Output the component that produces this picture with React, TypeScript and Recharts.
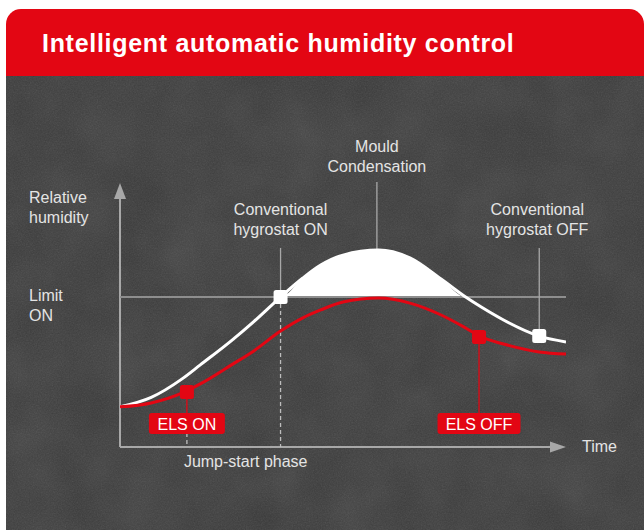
import React from 'react';
import {
  ComposedChart,
  Line,
  Area,
  Scatter,
  XAxis,
  YAxis,
  ReferenceLine,
  ReferenceDot,
} from 'recharts';

// ---- data ----
const time = [0, 7, 14, 18, 25, 30, 36, 41, 45, 50, 58, 65, 72, 77.5, 81, 86, 94, 100];
const conventional = [15.2, 18.8, 25.9, 31.1, 40.3, 47.5, 56.8, 64.0, 68.9, 72.7, 74.6, 71.6, 63.6, 56.8, 53.0, 48.1, 42.0, 39.8];
const elsCurve = [15.2, 16.7, 20.5, 23.9, 31.1, 36.4, 43.9, 48.9, 51.9, 54.9, 56.4, 54.5, 50.0, 45.1, 41.7, 39.0, 36.0, 35.2];
const limitOn = 56.8;
const whiteMarkers = [
  { t: 36, h: 56.8 },
  { t: 94, h: 42.0 },
];
const redMarkers = [
  { t: 15, h: 20.8 },
  { t: 80.5, h: 41.7 },
];
const mouldT = 57.6;
const mouldPeak = 74.6;
const calloutTop = 75.4;
const boxLevel = 8.9;
const boxTop = 12.9;
const boxBottom = 5.3;

const titleText = 'Intelligent automatic humidity control';
const mouldLabel = ['Mould', 'Condensation'];
const hygOnLabel = ['Conventional', 'hygrostat ON'];
const hygOffLabel = ['Conventional', 'hygrostat OFF'];
const yLabel = ['Relative', 'humidity'];
const limitLabel = ['Limit', 'ON'];
const xLabel = 'Time';
const phaseLabel = 'Jump-start phase';
const elsOnLabel = 'ELS ON';
const elsOffLabel = 'ELS OFF';

const RED = '#e30613';
const TEXT = '#e4e4e4';
const GRAY = '#a8a8a8';
const FONT = '"Liberation Sans", Arial, Helvetica, sans-serif';

const data = time.map((t, i) => ({
  t,
  conventional: conventional[i],
  els: elsCurve[i],
  mould: [limitOn, Math.max(conventional[i], limitOn)],
}));

type NoteProps = {
  lines: string[];
  anchor?: 'start' | 'middle' | 'end';
  dx?: number;
  dy?: number;
};

const makeNote = ({ lines, anchor = 'middle', dx = 0, dy = 0 }: NoteProps) => (p: any) => (
  <text
    x={p.cx + dx}
    y={p.cy + dy}
    textAnchor={anchor}
    fill={TEXT}
    fontSize={16}
    fontFamily={FONT}
  >
    {lines.map((l, i) => (
      <tspan key={i} x={p.cx + dx} dy={i === 0 ? 0 : 20}>
        {l}
      </tspan>
    ))}
  </text>
);

const makeBox = (label: string, w: number) => (p: any) => (
  <g>
    <rect x={p.cx - w / 2} y={p.cy - 10.5} width={w} height={21} rx={3} fill={RED} />
    <text
      x={p.cx}
      y={p.cy + 6}
      textAnchor="middle"
      fill="#fff"
      fontSize={16}
      fontFamily={FONT}
    >
      {label}
    </text>
  </g>
);

const upArrow = (p: any) => (
  <polygon points={`${p.cx},${p.cy} ${p.cx - 6},${p.cy + 16} ${p.cx + 6},${p.cy + 16}`} fill={GRAY} />
);
const rightArrow = (p: any) => (
  <polygon points={`${p.cx},${p.cy} ${p.cx - 16},${p.cy - 5.5} ${p.cx - 16},${p.cy + 5.5}`} fill={GRAY} />
);

const squareShape = (color: string) => (p: any) => (
  <rect x={p.cx - 7} y={p.cy - 7} width={14} height={14} rx={2.5} fill={color} />
);

export default function App() {
  return (
    <div
      style={{
        position: 'absolute',
        left: 0,
        top: 0,
        width: 644,
        height: 530,
        background: '#fff',
        overflow: 'hidden',
      }}
    >
      <svg width={644} height={530} style={{ position: 'absolute', left: 0, top: 0 }}>
        <defs>
          <filter id="grain" x="0" y="0" width="100%" height="100%">
            <feTurbulence type="fractalNoise" baseFrequency="0.75" numOctaves="2" seed="5" />
            <feColorMatrix type="saturate" values="0" />
          </filter>
          <filter id="cloud" x="0" y="0" width="100%" height="100%">
            <feTurbulence type="fractalNoise" baseFrequency="0.018" numOctaves="3" seed="9" />
            <feColorMatrix type="saturate" values="0" />
          </filter>
        </defs>
        <rect x={6} y={9} width={638} height={90} rx={15} ry={15} fill={RED} />
        <rect x={6} y={76} width={638} height={454} fill="#393939" />
        <rect x={6} y={76} width={638} height={454} filter="url(#cloud)" opacity={0.11} />
        <rect x={6} y={76} width={638} height={454} filter="url(#grain)" opacity={0.14} />
        <text x={42} y={52} fill="#fff" fontSize={25} fontWeight={700} fontFamily={FONT} letterSpacing={0.7}>
          {titleText}
        </text>
      </svg>
      <div style={{ position: 'absolute', left: 0, top: 0 }}>
        <ComposedChart
          width={644}
          height={530}
          data={data}
          margin={{ top: 183, right: 78, bottom: 83, left: 120 }}
        >
          <XAxis type="number" dataKey="t" domain={[0, 100]} hide allowDataOverflow />
          <YAxis type="number" domain={[0, 100]} hide allowDataOverflow />

          <Area
            type="monotone"
            dataKey="mould"
            stroke="none"
            fill="#ffffff"
            fillOpacity={1}
            isAnimationActive={false}
            activeDot={false}
          />

          {/* axes */}
          <ReferenceLine
            segment={[{ x: 0, y: 0 }, { x: 0, y: 95 }]}
            stroke={GRAY}
            strokeWidth={2}
            ifOverflow="visible"
          />
          <ReferenceLine
            segment={[{ x: 0, y: 0 }, { x: 97, y: 0 }]}
            stroke={GRAY}
            strokeWidth={2}
            ifOverflow="visible"
          />
          <ReferenceDot x={0} y={100} r={0} ifOverflow="visible" shape={upArrow} />
          <ReferenceDot x={100} y={0} r={0} ifOverflow="visible" shape={rightArrow} />

          {/* limit */}
          <ReferenceLine
            segment={[{ x: 0, y: limitOn }, { x: 100, y: limitOn }]}
            stroke="#8e8e8e"
            strokeWidth={2}
            ifOverflow="visible"
          />

          {/* callout lines */}
          <ReferenceLine
            segment={[{ x: mouldT, y: 100.4 }, { x: mouldT, y: mouldPeak }]}
            stroke={GRAY}
            strokeWidth={1.3}
            ifOverflow="visible"
          />
          <ReferenceLine
            segment={[{ x: whiteMarkers[0].t, y: calloutTop }, { x: whiteMarkers[0].t, y: whiteMarkers[0].h }]}
            stroke={GRAY}
            strokeWidth={1.3}
            ifOverflow="visible"
          />
          <ReferenceLine
            segment={[{ x: whiteMarkers[0].t, y: whiteMarkers[0].h }, { x: whiteMarkers[0].t, y: 0 }]}
            stroke="#bdbdbd"
            strokeWidth={1.3}
            strokeDasharray="4 3"
            ifOverflow="visible"
          />
          <ReferenceLine
            segment={[{ x: whiteMarkers[1].t, y: calloutTop }, { x: whiteMarkers[1].t, y: whiteMarkers[1].h }]}
            stroke={GRAY}
            strokeWidth={1.3}
            ifOverflow="visible"
          />
          <ReferenceLine
            segment={[{ x: redMarkers[0].t, y: redMarkers[0].h }, { x: redMarkers[0].t, y: boxTop }]}
            stroke={RED}
            strokeWidth={1.3}
            ifOverflow="visible"
          />
          <ReferenceLine
            segment={[{ x: redMarkers[0].t, y: boxBottom }, { x: redMarkers[0].t, y: 0 }]}
            stroke="#bdbdbd"
            strokeWidth={1.3}
            strokeDasharray="4 3"
            ifOverflow="visible"
          />
          <ReferenceLine
            segment={[{ x: redMarkers[1].t, y: redMarkers[1].h }, { x: redMarkers[1].t, y: boxTop }]}
            stroke={RED}
            strokeWidth={1.3}
            ifOverflow="visible"
          />

          <Line
            type="monotone"
            dataKey="conventional"
            stroke="#ffffff"
            strokeWidth={3}
            dot={false}
            activeDot={false}
            isAnimationActive={false}
          />
          <Line
            type="monotone"
            dataKey="els"
            stroke={RED}
            strokeWidth={3}
            dot={false}
            activeDot={false}
            isAnimationActive={false}
          />

          <Scatter data={whiteMarkers} dataKey="h" shape={squareShape('#ffffff')} isAnimationActive={false} />
          <Scatter data={redMarkers} dataKey="h" shape={squareShape(RED)} isAnimationActive={false} />

          {/* text annotations */}
          <ReferenceDot x={mouldT} y={100.4} r={0} ifOverflow="visible" shape={makeNote({ lines: mouldLabel, dy: -30 })} />
          <ReferenceDot x={whiteMarkers[0].t} y={calloutTop} r={0} ifOverflow="visible" shape={makeNote({ lines: hygOnLabel, dy: -33 })} />
          <ReferenceDot x={whiteMarkers[1].t} y={calloutTop} r={0} ifOverflow="visible" shape={makeNote({ lines: hygOffLabel, dx: -2, dy: -33 })} />
          <ReferenceDot x={0} y={100} r={0} ifOverflow="visible" shape={makeNote({ lines: yLabel, anchor: 'start', dx: -91, dy: 20 })} />
          <ReferenceDot x={0} y={limitOn} r={0} ifOverflow="visible" shape={makeNote({ lines: limitLabel, anchor: 'start', dx: -91, dy: 4 })} />
          <ReferenceDot x={100} y={0} r={0} ifOverflow="visible" shape={makeNote({ lines: [xLabel], anchor: 'start', dx: 16, dy: 5 })} />
          <ReferenceDot x={redMarkers[0].t} y={0} r={0} ifOverflow="visible" shape={makeNote({ lines: [phaseLabel], anchor: 'start', dx: -3, dy: 20 })} />
          <ReferenceDot x={redMarkers[0].t} y={boxLevel} r={0} ifOverflow="visible" shape={makeBox(elsOnLabel, 76)} />
          <ReferenceDot x={redMarkers[1].t} y={boxLevel} r={0} ifOverflow="visible" shape={makeBox(elsOffLabel, 83)} />
        </ComposedChart>
      </div>
    </div>
  );
}
